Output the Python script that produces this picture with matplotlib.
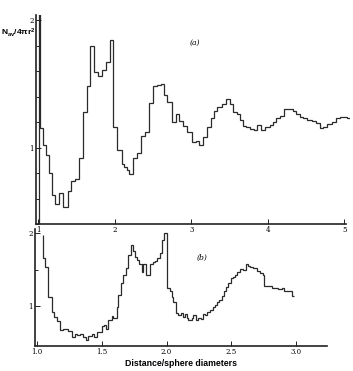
import matplotlib
matplotlib.use("Agg")
import matplotlib.pyplot as plt
from matplotlib.ticker import MultipleLocator, FixedLocator

plt.rcParams['mathtext.fontset'] = 'custom'
plt.rcParams['mathtext.rm'] = 'Liberation Sans:bold'
plt.rcParams['mathtext.default'] = 'rm'

# ---- panel (a): step edges (distance) and values ----
edges_a = [0.99, 1.005, 1.022, 1.058, 1.101, 1.144, 1.175, 1.218, 1.275, 1.319,
           1.392, 1.427, 1.480, 1.536, 1.588, 1.641, 1.680, 1.728, 1.784, 1.837,
           1.885, 1.937, 1.980, 2.033, 2.090, 2.124, 2.156, 2.186, 2.242, 2.294,
           2.342, 2.395, 2.451, 2.503, 2.556, 2.600, 2.647, 2.686, 2.744, 2.796,
           2.839, 2.895, 2.948, 3.005, 3.058, 3.105, 3.157, 3.209, 3.254, 3.297,
           3.340, 3.397, 3.454, 3.506, 3.541, 3.594, 3.637, 3.680, 3.715, 3.767,
           3.820, 3.863, 3.907, 3.964, 4.029, 4.064, 4.107, 4.159, 4.212, 4.325,
           4.369, 4.421, 4.464, 4.516, 4.574, 4.630, 4.682, 4.725, 4.778, 4.835,
           4.891, 4.943, 5.031, 5.074]
values_a = [0.0, 2.5, 1.15, 1.02, 0.94, 0.80, 0.625, 0.56, 0.64, 0.535,
            0.66, 0.74, 0.755, 0.92, 1.28, 1.48, 1.80, 1.59, 1.56, 1.61,
            1.67, 1.84, 1.16, 0.98, 0.87, 0.85, 0.82, 0.79, 0.92, 0.96,
            1.09, 1.12, 1.35, 1.48, 1.49, 1.50, 1.41, 1.36, 1.20, 1.26,
            1.21, 1.17, 1.12, 1.04, 1.05, 1.02, 1.08, 1.16, 1.23, 1.29,
            1.32, 1.34, 1.38, 1.34, 1.28, 1.26, 1.22, 1.17, 1.16, 1.146,
            1.14, 1.18, 1.14, 1.16, 1.18, 1.20, 1.23, 1.25, 1.30, 1.29,
            1.26, 1.24, 1.23, 1.22, 1.21, 1.19, 1.15, 1.16, 1.185, 1.20,
            1.23, 1.24, 1.23]

# ---- panel (b) ----
edges_b = [1.0477, 1.049, 1.0654, 1.0869, 1.1169, 1.1346, 1.16, 1.1808, 1.2062, 1.2446,
           1.2708, 1.2962, 1.3138, 1.3346, 1.3554, 1.3808, 1.3985, 1.4246, 1.4446, 1.4677,
           1.5015, 1.5192, 1.5346, 1.5523, 1.5785, 1.5908, 1.6169, 1.6292, 1.6477, 1.6677,
           1.6885, 1.7062, 1.7246, 1.74, 1.7577, 1.7754, 1.7908, 1.8092, 1.8215, 1.84,
           1.8692, 1.8938, 1.9115, 1.9292, 1.95, 1.9677, 1.9831, 2.0015, 2.0269, 2.04,
           2.0523, 2.0731, 2.0908, 2.1092, 2.1246, 2.1423, 2.1554, 2.1677, 2.1938, 2.2062,
           2.2269, 2.2446, 2.2631, 2.2785, 2.2962, 2.3138, 2.3346, 2.3554, 2.3731, 2.3908,
           2.4062, 2.4246, 2.4423, 2.4577, 2.4754, 2.4938, 2.5092, 2.5269, 2.54, 2.5654,
           2.5908, 2.6115, 2.6292, 2.6423, 2.6677, 2.6938, 2.7192, 2.74, 2.7538, 2.7831,
           2.8092, 2.8423, 2.8608, 2.8862, 2.9038, 2.9246, 2.95, 2.9654, 2.9846]
values_b = [1.97, 1.66, 1.54, 1.13, 0.92, 0.85, 0.80, 0.67, 0.69, 0.66,
            0.58, 0.62, 0.60, 0.62, 0.58, 0.53, 0.59, 0.61, 0.58, 0.65,
            0.72, 0.74, 0.68, 0.81, 0.86, 0.84, 0.99, 1.15, 1.31, 1.42,
            1.52, 1.70, 1.84, 1.75, 1.675, 1.63, 1.57, 1.47, 1.58, 1.42,
            1.57, 1.60, 1.62, 1.66, 1.72, 1.90, 2.00, 1.24, 1.20, 1.13,
            1.06, 0.90, 0.88, 0.91, 0.85, 0.89, 0.83, 0.81, 0.84, 0.88,
            0.81, 0.83, 0.82, 0.89, 0.88, 0.92, 0.95, 0.99, 1.01, 1.06,
            1.08, 1.14, 1.20, 1.26, 1.31, 1.38, 1.40, 1.42, 1.47, 1.51,
            1.50, 1.58, 1.55, 1.54, 1.52, 1.48, 1.45, 1.42, 1.28, 1.27,
            1.25, 1.24, 1.23, 1.24, 1.21, 1.20, 1.21, 1.14]

xticks_a = [1, 2, 3, 4, 5]
xticklabels_a = ['1', '2', '3', '4', '5']
xticks_b = [1.0, 1.5, 2.0, 2.5, 3.0]
xticklabels_b = ['1.0', '1.5', '2.0', '2.5', '3.0']
yticks = [1, 2]
yticklabels = ['1', '2']

W, H = 353, 371
fig = plt.figure(figsize=(W / 100, H / 100), dpi=100)
line_col = '#2a2a2a'
serif = 'DejaVu Serif'

def style(ax):
    for s in ['top', 'right']:
        ax.spines[s].set_visible(False)
    for s in ['left', 'bottom']:
        ax.spines[s].set_linewidth(1.2)
        ax.spines[s].set_color('#222222')
    ax.tick_params(which='both', direction='in', color='#222222', width=0.7)
    ax.tick_params(which='major', length=3.5, pad=1.5, labelsize=5)
    ax.tick_params(which='minor', length=2)
    for lab in ax.get_xticklabels() + ax.get_yticklabels():
        lab.set_fontfamily(serif)

# panel (b) first so that panel (a) labels sit on top
ax2 = fig.add_axes([35 / W, 1 - 346 / H, (327 - 35) / W, (346 - 229) / H])
ax2.patch.set_visible(False)
ax2.stairs(values_b, edges_b, baseline=None, color=line_col, lw=0.9)
ax2.set_xlim(0.988, 3.235)
ax2.set_ylim(0.452, 2.055)
ax2.set_xticks(xticks_b)
ax2.set_xticklabels(xticklabels_b)
ax2.set_yticks(yticks)
ax2.set_yticklabels(yticklabels)
ax2.yaxis.set_minor_locator(FixedLocator([1.5]))
style(ax2)
ax2.text(2.27, 1.66, '(b)', fontsize=5.5, style='italic', family=serif,
         ha='center', va='center')
ax2.set_xlabel('Distance/sphere diameters', fontsize=6.3, fontweight='bold',
               family='Liberation Sans', labelpad=2)

# panel (a)
ax1 = fig.add_axes([36 / W, 1 - 224 / H, (350 - 36) / W, (224 - 15) / H])
ax1.patch.set_visible(False)
ax1.stairs(values_a, edges_a, baseline=None, color=line_col, lw=0.9)
ax1.set_xlim(0.970, 5.073)
ax1.set_ylim(0.40, 2.04)
ax1.spines['bottom'].set_bounds(0.970, 5.02)
ax1.set_xticks(xticks_a)
ax1.set_xticklabels(xticklabels_a)
ax1.set_yticks(yticks)
ax1.set_yticklabels(yticklabels)
ax1.yaxis.set_minor_locator(MultipleLocator(0.2))
style(ax1)
ax1.text(3.05, 1.82, '(a)', fontsize=5.5, style='italic', family=serif,
         ha='center', va='center')

fig.text(1 / W, 1 - 33 / H, r'N$_{av}$/4πr$^2$', fontsize=6, fontweight='bold',
         family='Liberation Sans', ha='left', va='center')

fig.savefig('out.png', dpi=100)
